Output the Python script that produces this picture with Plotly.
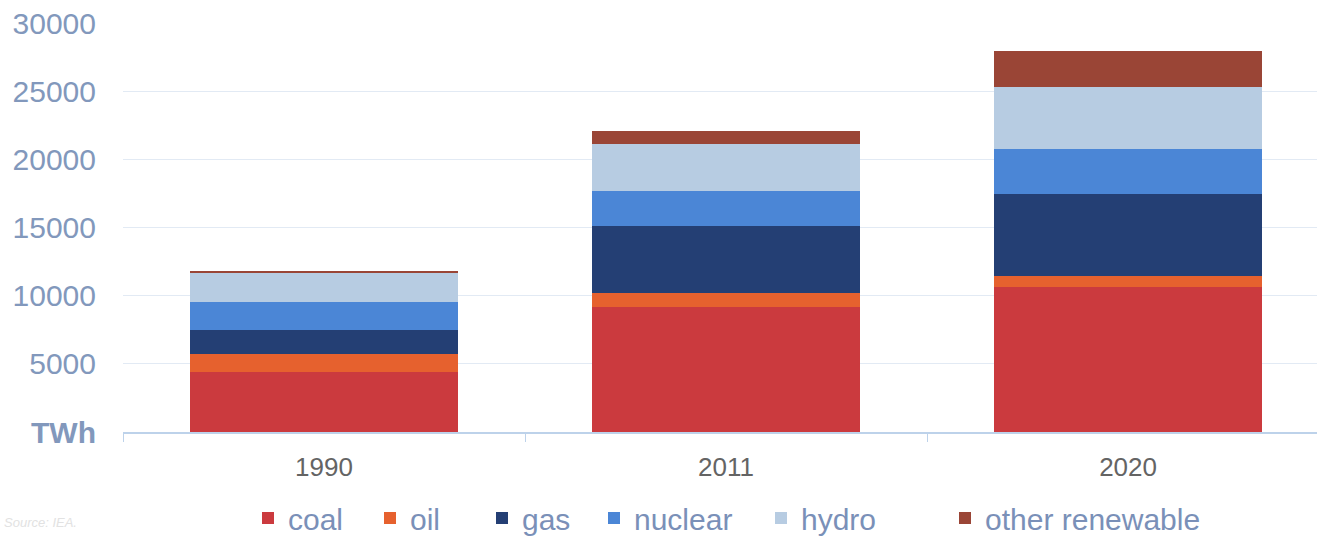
import plotly.graph_objects as go

years = ["1990", "2011", "2020"]
coal = [4430, 9170, 10640]
oil = [1300, 1030, 780]
gas = [1760, 4900, 6010]
nuclear = [2010, 2570, 3360]
hydro = [2160, 3490, 4480]
other_renewable = [170, 930, 2690]

series = [
    ("coal", coal, "#CB3A3E"),
    ("oil", oil, "#E6612E"),
    ("gas", gas, "#243F74"),
    ("nuclear", nuclear, "#4B86D6"),
    ("hydro", hydro, "#B7CCE2"),
    ("other renewable", other_renewable, "#9A4536"),
]

y_ticks = [0, 5000, 10000, 15000, 20000, 25000, 30000]
y_ticktext = ["<b>TWh</b>", "5000", "10000", "15000", "20000", "25000", "30000"]

FONT = "Liberation Sans, Arial, sans-serif"
W, H = 1317, 538
ML, MR, MT, MB = 123, 0, 23, 106
PW = W - ML - MR
PH = H - MT - MB

legend_px = [266, 388, 500, 612, 779, 963]
legend_cy = 518

fig = go.Figure()
layout_legends = {}
for i, (name, vals, col) in enumerate(series):
    lname = "legend" if i == 0 else f"legend{i+1}"
    fig.add_trace(go.Bar(x=years, y=vals, name=name, marker_color=col,
                         marker_line_width=0, legend=lname))
    layout_legends[lname] = dict(
        orientation="h", xref="container", yref="container",
        x=(legend_px[i] - 18) / W, xanchor="left",
        y=1 - legend_cy / H, yanchor="middle", bgcolor="rgba(0,0,0,0)",
        font=dict(size=30, color="#7A90B8"), itemwidth=30)

fig.update_layout(
    barmode="stack",
    bargap=0.333,
    width=W, height=H,
    margin=dict(l=ML, r=MR, t=MT, b=MB),
    paper_bgcolor="white", plot_bgcolor="white",
    font=dict(family=FONT),
    showlegend=True,
    xaxis=dict(range=[-0.5, 2.47], showline=True, linecolor="#BDD2EA", linewidth=1.5,
               ticks="outside", tickson="boundaries", ticklen=8, tickcolor="#BDD2EA",
               tickfont=dict(size=26, color="#646464"), showgrid=False,
               automargin=False, ticklabelstandoff=11),
    yaxis=dict(range=[0, 30000], tickvals=y_ticks, ticktext=y_ticktext,
               tickfont=dict(size=30, color="#8298BC"), gridcolor="#E2EAF4",
               gridwidth=1, zeroline=False, ticklabelstandoff=26, automargin=False),
    annotations=[dict(text="<i>Source: IEA.</i>", xref="paper", yref="paper",
                      x=(2 - ML) / PW, y=-(522 - (H - MB)) / PH,
                      xanchor="left", yanchor="middle",
                      showarrow=False, font=dict(size=13, color="#E2E2E2"))],
    **layout_legends,
)

fig.write_html("out.html", config={"displayModeBar": False},
               post_script="document.body.style.margin='0';document.body.style.overflow='hidden';")
